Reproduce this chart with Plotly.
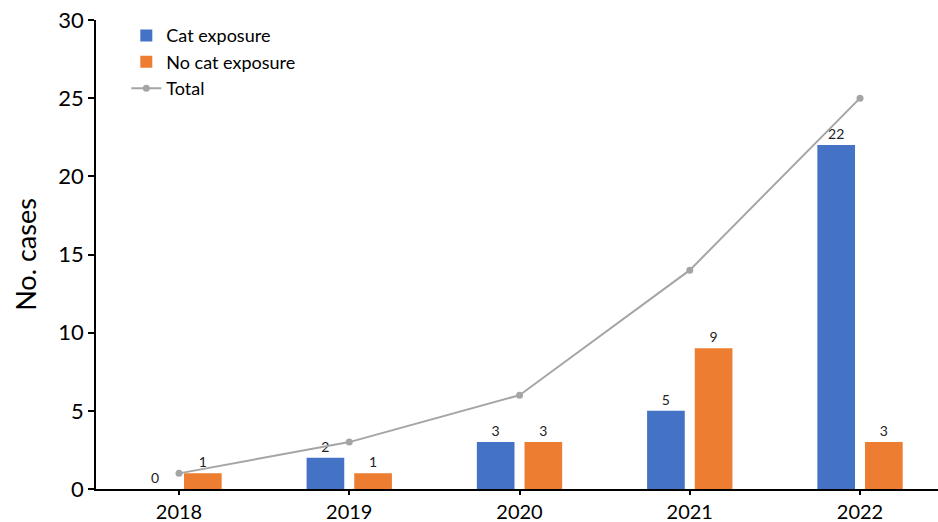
import plotly.graph_objects as go

years = ["2018", "2019", "2020", "2021", "2022"]
cat_exposure = [0, 2, 3, 5, 22]
no_cat_exposure = [1, 1, 3, 9, 3]
total = [1, 3, 6, 14, 25]

BLUE = "#4472C4"
ORANGE = "#ED7D31"
GRAY = "#A5A5A5"
FONT = "Lato, Carlito, Liberation Sans, sans-serif"

fig = go.Figure()
fig.add_trace(go.Bar(
    x=years, y=cat_exposure, name="Cat exposure",
    marker=dict(color=BLUE, line=dict(width=0)),
    text=[str(v) for v in cat_exposure], textposition="outside",
    textfont=dict(size=14, color="#222222", family=FONT),
    cliponaxis=False,
))
fig.add_trace(go.Bar(
    x=years, y=no_cat_exposure, name="No cat exposure",
    marker=dict(color=ORANGE, line=dict(width=0)),
    text=[str(v) for v in no_cat_exposure], textposition="outside",
    textfont=dict(size=14, color="#222222", family=FONT),
    cliponaxis=False,
))
fig.add_trace(go.Scatter(
    x=years, y=total, name="Total", mode="lines+markers",
    line=dict(color=GRAY, width=2),
    marker=dict(color=GRAY, size=7),
    cliponaxis=False,
))

fig.update_layout(
    width=938, height=522,
    margin=dict(l=96, r=0, t=20, b=33),
    paper_bgcolor="white", plot_bgcolor="white",
    font=dict(family=FONT, color="#000000"),
    barmode="group", bargap=0.44, bargroupgap=0.21,
    showlegend=True,
    legend=dict(
        x=0.036, y=1.006, xanchor="left", yanchor="top",
        font=dict(size=18, family=FONT), bgcolor="rgba(0,0,0,0)",
        itemwidth=30, tracegroupgap=0,
    ),
)
fig.update_xaxes(
    type="category", range=[-0.4875, 4.458], automargin=False,
    showline=True, linecolor="black", linewidth=1.5,
    ticks="outside", ticklen=4, tickcolor="black", tickwidth=1.5,
    tickfont=dict(size=20, family=FONT), showgrid=False, zeroline=False,
    ticklabeloverflow="allow",
)
fig.update_yaxes(
    range=[0, 30], dtick=5, automargin=False,
    showline=True, linecolor="black", linewidth=1.5,
    ticks="outside", ticklen=6, tickcolor="black", tickwidth=1.5,
    tickfont=dict(size=22, family=FONT), showgrid=False, zeroline=False,
    ticklabeloverflow="allow",
    title=dict(text="No. cases", font=dict(size=27, family=FONT), standoff=14),
)

fig.write_html(
    "out.html",
    config={"displayModeBar": False},
    post_script="document.body.style.margin='0';document.body.style.overflow='hidden';",
)
